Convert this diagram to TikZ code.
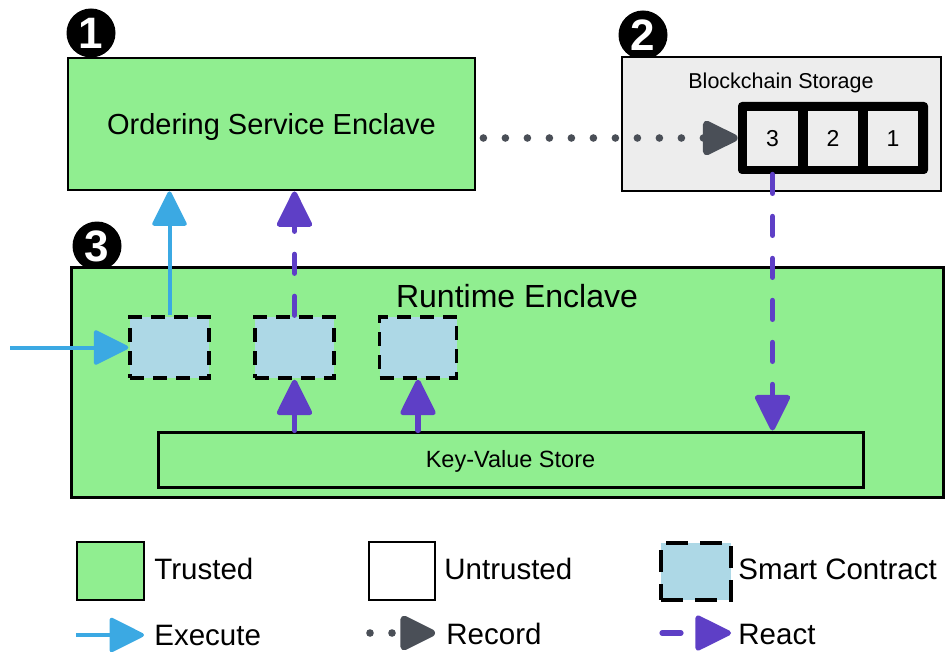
\documentclass[tikz,border=0pt]{standalone}
\usepackage{fontspec}
\setmainfont{Liberation Sans}
\usetikzlibrary{arrows.meta}
\definecolor{trustgreen}{HTML}{90EE90}
\definecolor{sclblue}{HTML}{ADD8E6}
\definecolor{storegray}{HTML}{EDEDED}
\definecolor{execblue}{HTML}{3BA9E3}
\definecolor{reactpurple}{HTML}{5E3FC6}
\definecolor{recordgray}{HTML}{4A4F57}
\tikzset{
  box/.style={draw=black, line width=1.4pt, inner sep=0pt},
  trustedbox/.style={box, fill=trustgreen},
  scbox/.style={fill=sclblue, draw=black, line width=1.7pt, dash pattern=on 7pt off 4.5pt, inner sep=0pt},
  cellbox/.style={fill=storegray, inner sep=0pt, minimum width=25.5pt, minimum height=27.5pt, font=\fontsize{11.5}{13}\selectfont, text depth=0pt},
  lbl/.style={inner sep=0pt, text depth=0pt},
  legtext/.style={lbl, anchor=west, font=\fontsize{14.75}{17}\selectfont},
  badge/.style={circle, fill=black, minimum size=24.5pt, inner sep=0pt, text=white, text depth=0pt, font=\bfseries\fontsize{22}{23}\selectfont},
  exec/.style={draw=execblue, line width=2pt, -{Triangle[length=18.5pt, width=18pt, round]}},
  react/.style={draw=reactpurple, line width=2.6pt, line cap=round, dash pattern=on 9.5pt off 11.5pt, -{Triangle[length=19.5pt, width=18.5pt, round]}},
  record/.style={draw=recordgray, line width=3.8pt, line cap=round, dash pattern=on 0pt off 11pt, -{Triangle[length=20pt, width=18.5pt, round]}},
}
\begin{document}
\begin{tikzpicture}[x=0.5pt, y=-0.5pt]
\useasboundingbox (0,0) rectangle (946,652);

% badges (drawn first, boxes overlap them)
\node[badge] (b1) at (91,33) {1};
\node[badge] (b2) at (643,35) {2};
\node[badge] (b3) at (97,246) {3};

% ordering service
\node[trustedbox, minimum width=203.5pt, minimum height=66pt] (ord) at (271.5,124) {};
\node[lbl, font=\fontsize{14.5}{16}\selectfont] (ordt) at (271.5,124) {Ordering Service Enclave};

% blockchain storage
\node[box, line width=1.3pt, fill=storegray, minimum width=159.5pt, minimum height=67pt] (bs) at (781.5,124) {};
\node[lbl, font=\fontsize{10.75}{12}\selectfont] (bst) at (781,80.5) {Blockchain Storage};
\node[fill=black, rounded corners=2pt, inner sep=0pt, minimum width=95pt, minimum height=36pt] (chain) at (833,138) {};
\node[cellbox] (c3) at (772.5,138.5) {3};
\node[cellbox, minimum width=25pt] (c2) at (833,138.5) {2};
\node[cellbox, minimum width=25pt] (c1) at (893,138.5) {1};

% runtime enclave
\node[trustedbox, line width=1.5pt, minimum width=436pt, minimum height=115pt] (rt) at (507,382) {};
\node[lbl, font=\fontsize{16}{18}\selectfont] (rtt) at (517,296) {Runtime Enclave};
\node[trustedbox, line width=1.5pt, minimum width=352.5pt, minimum height=27.5pt] (kv) at (510.5,459.5) {};
\node[lbl, font=\fontsize{11.75}{13}\selectfont] (kvt) at (510.5,458.5) {Key-Value Store};
\node[scbox, minimum width=39.5pt, minimum height=30.5pt] (sc1) at (169.5,347.5) {};
\node[scbox, minimum width=39.5pt, minimum height=30.5pt] (sc2) at (294.5,347.5) {};
\node[scbox, minimum width=38.5pt, minimum height=30.5pt] (sc3) at (418,347.5) {};

% connectors
\coordinate (ein) at (10,347.5);
\draw[exec] (ein) -- (sc1.west);
\draw[exec] (sc1.north) -- (sc1.north |- ord.south);
\draw[react] (sc2.north) -- (sc2.north |- ord.south);
\draw[react] (c3.south |- chain.south) -- (c3.south |- kv.north);
\draw[react] (kv.north -| sc2.south) -- (sc2.south);
\draw[react] (kv.north -| sc3.south) -- (sc3.south);
\path (ord.east |- chain.west) ++(7,0) coordinate (recstart);
\draw[record] (recstart) -- (chain.west);

% legend
\node[trustedbox, minimum width=33.5pt, minimum height=29pt] (lt) at (110.5,571) {};
\node[legtext] (ltt) at (154,569) {Trusted};
\node[box, fill=white, minimum width=33pt, minimum height=29pt] (lu) at (402,571) {};
\node[legtext] (lut) at (444,569) {Untrusted};
\node[scbox, minimum width=35pt, minimum height=28.5pt, dash pattern=on 11pt off 6pt] (ls) at (696,571.5) {};
\node[legtext] (lst) at (738,569) {Smart Contract};

\coordinate (le1) at (76,635);
\coordinate (le2) at (144,635);
\draw[exec] (le1) -- (le2);
\node[legtext] (let) at (154,635) {Execute};
\coordinate (lr1) at (370,633);
\coordinate (lr2) at (435,633);
\draw[record] (lr1) -- (lr2);
\node[legtext] (lrt) at (446,634) {Record};
\coordinate (lp1) at (662,633);
\coordinate (lp2) at (731,633);
\draw[react] (lp1) -- (lp2);
\node[legtext] (lpt) at (738,634) {React};
\end{tikzpicture}
\end{document}
